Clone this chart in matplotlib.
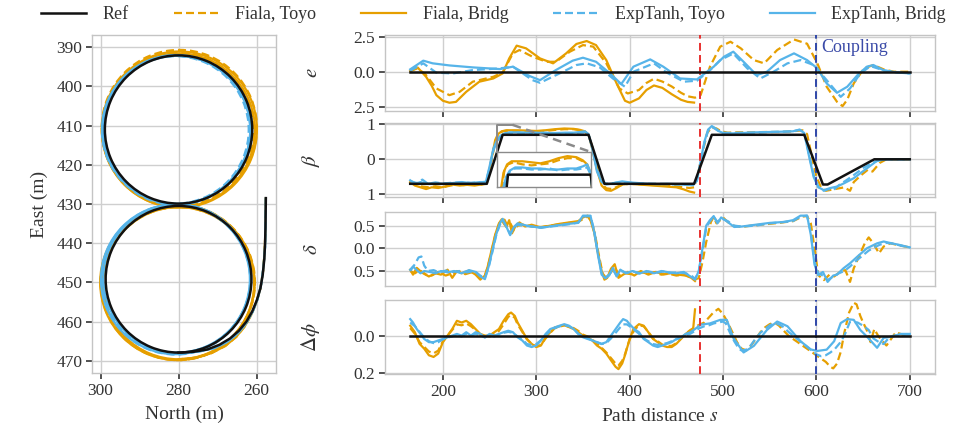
import matplotlib
matplotlib.use('Agg')
import matplotlib.pyplot as plt
from matplotlib.lines import Line2D
from matplotlib.patches import Arc

plt.rcParams['font.family'] = ['Liberation Serif', 'DejaVu Serif']
plt.rcParams['mathtext.fontset'] = 'stix'
plt.rcParams['axes.unicode_minus'] = False

TXT = '#333333'
ORANGE = '#E69F00'
BLUE = '#56B4E9'
BLACK = '#111111'
RED_EVT = '#e8302f'
BLUE_EVT = '#2f47a8'

# ---------------- data ----------------
series_labels = ['Ref', 'Fiala, Toyo', 'Fiala, Bridg', 'ExpTanh, Toyo', 'ExpTanh, Bridg']
event_s = [475, 600]
coupling_label = 'Coupling'

north_ticks = [300, 280, 260]
east_ticks = [390, 400, 410, 420, 430, 440, 450, 460, 470]
s_ticks = [200, 300, 400, 500, 600, 700]
e_ticks = [2.5, 0.0, -2.5]
e_ticklabels = ['2.5', '0.0', '2.5']
beta_ticks = [1, 0, -1]
beta_ticklabels = ['1', '0', '1']
delta_ticks = [0.5, 0.0, -0.5]
delta_ticklabels = ['0.5', '0.0', '0.5']
phi_ticks = [0.0, -0.2]
phi_ticklabels = ['0.0', '0.2']

# trajectories: entry leg (north, east) and the figure-eight loops (centre north, centre east, radius)
approach_ref = [(257.6,428.5),(257.65,432.0),(257.7,436.0),(257.8,440.0),(258.0,444.0),(258.4,448.0),(259.0,451.5),
                (259.9,454.5),(261.1,457.4),(262.6,460.0),(264.5,462.3),(266.8,464.3),(269.5,465.9),(272.6,467.1),
                (276.2,467.7),(280.0,467.9)]
approach_fiala = [(257.6,428.5),(257.7,436.0),(257.9,442.0),(258.3,447.0),(259.0,451.5),(260.0,455.0),(261.3,458.2),
                  (263.0,461.2),(265.2,463.9),(268.0,466.2),(271.5,468.0),(275.5,469.2),(280.0,469.6)]
approach_exp = [(257.6,428.5),(257.7,436.0),(257.8,441.0),(258.2,446.0),(258.8,450.5),(259.7,454.2),(261.0,457.5),
                (262.7,460.5),(264.8,463.0),(267.4,465.1),(270.6,466.7),(274.6,467.6),(280.4,467.9)]
loops_ref = [(280.0,449.2,18.7),(280.0,411.0,18.9)]
loops_fiala_bridg = [(280.0,450.2,19.4),(280.0,411.2,19.6),(280.3,450.0,19.8),(279.8,411.0,19.9)]
loops_fiala_toyo = [(280.2,450.0,19.8),(279.8,410.6,19.9),(280.0,450.3,19.5),(280.1,411.0,19.5)]
loops_exp_bridg = [(280.4,449.0,18.9),(280.4,411.1,18.9),(280.8,449.2,19.1),(280.6,411.0,19.0)]
loops_exp_toyo = [(280.7,449.3,19.1),(280.6,411.2,19.0),(280.5,449.0,19.0),(280.8,411.1,18.8)]

# lateral error e (s, value)
e_ref = [(165,0.0),(700,0.0)]
e_fiala_bridg = [(165,0.05),(173,0.3),(182,-0.36),(188,-1.0),(193,-1.67),(200,-2.07),(207,-2.21),(214,-2.15),
            (225,-1.43),(239,-0.71),(254,-0.48),(264,-0.12),(271,0.95),(279,1.86),(289,1.67),(304,0.95),(318,0.6),
            (332,1.31),(343,1.98),(354,2.19),(364,1.9),(375,0.83),(386,-0.83),(395,-2.07),(400,-2.21),(410,-1.9),
            (418,-1.3),(426,-0.98),(435,-1.15),(445,-1.6),(455,-2.0),(462,-2.15),(469,-2.2)]
e_fiala_toyo = [(165,0.05),(173,0.25),(182,-0.24),(193,-1.19),(207,-1.67),(218,-1.43),(232,-0.71),(254,-0.36),
            (264,-0.05),(275,1.31),(282,1.55),(296,1.07),(311,0.71),(321,0.71),(336,1.43),(350,1.9),(361,1.79),
            (375,0.6),(389,-1.19),(398,-1.55),(410,-1.3),(418,-0.8),(426,-0.5),(435,-0.7),(445,-1.05),(455,-1.5),
            (462,-1.75),(470,-1.85),(476,-1.67),(486,0.36),(497,1.79),(508,2.14),(519,1.67),(533,0.83),(544,0.6),
            (558,1.55),(576,2.3),(590,2.0),(601,0.6),(611,-1.07),(622,-2.14),(628,-2.45),(633,-2.0),(640,-0.83),
            (651,0.24),(661,0.48),(672,0.17),(683,0.0),(700,0.0)]
e_exp_bridg = [(165,0.17),(179,0.79),(189,0.6),(207,0.45),(232,0.31),(261,0.19),(275,0.36),(293,-0.31),(304,-0.6),
            (321,0.12),(339,0.79),(350,1.0),(364,0.71),(379,-0.12),(391,-0.88),(404,0.36),(422,0.88),(436,0.36),
            (454,-0.48),(472,-0.55),(490,0.36),(501,1.07),(511,1.43),(522,0.71),(536,-0.24),(547,0.0),(561,0.83),
            (576,1.31),(590,0.83),(601,0.24),(611,-0.83),(622,-1.5),(633,-1.07),(644,-0.24),(654,0.36),(661,0.48),
            (672,0.1),(686,-0.05),(700,-0.12)]
e_exp_toyo = [(165,0.07),(179,0.6),(193,-0.07),(211,-0.12),(232,0.12),(261,0.24),(275,0.36),(296,-0.6),(304,-0.79),
            (325,-0.12),(343,0.48),(354,0.6),(368,0.31),(382,-0.48),(395,-1.07),(404,0.0),(426,0.6),(440,-0.07),
            (458,-0.71),(472,-0.64),(486,0.1),(497,0.83),(511,1.3),(526,0.24),(540,-0.48),(554,0.0),(569,0.6),
            (583,0.83),(597,0.48),(611,-0.6),(626,-1.79),(636,-1.19),(647,-0.12),(658,0.4),(672,0.1),(686,-0.05),
            (700,-0.12)]

# sideslip beta
beta_ref = [(165,-0.7),(247,-0.7),(264,0.7),(356,0.7),(373,-0.7),(469,-0.7),(488,0.7),(587,0.7),(607,-0.72),
            (612,-0.72),(662,0.0),(700,0.0)]
beta_fiala_bridg = [(165,-0.65),(170,-0.75),(176,-0.8),(182,-0.85),(188,-0.8),(195,-0.82),(202,-0.78),(210,-0.72),
            (218,-0.75),(226,-0.73),(234,-0.75),(241,-0.72),(247,-0.7),(252,0.0),(256,0.55),(259,0.72),(263,0.8),
            (268,0.83),(280,0.83),(290,0.82),(300,0.81),(310,0.83),(320,0.86),(330,0.88),(340,0.87),(347,0.84),
            (352,0.8),(356,0.7),(360,0.3),(365,-0.3),(370,-0.75),(375,-0.88),(380,-0.9),(386,-0.82),(392,-0.72),
            (400,-0.7),(410,-0.72),(420,-0.74),(430,-0.76),(440,-0.78),(450,-0.8),(458,-0.86),(464,-0.92),(469,-0.95)]
beta_fiala_toyo = [(165,-0.62),(172,-0.72),(178,-0.78),(185,-0.8),(192,-0.77),(200,-0.8),(208,-0.75),(216,-0.72),
            (224,-0.74),(232,-0.72),(240,-0.73),(247,-0.68),(252,-0.05),(256,0.5),(260,0.74),(264,0.8),(270,0.82),
            (280,0.8),(290,0.79),(300,0.8),(310,0.81),(320,0.84),(330,0.86),(340,0.86),(347,0.83),(352,0.79),(356,0.7),
            (360,0.35),(365,-0.25),(370,-0.7),(375,-0.83),(381,-0.85),(387,-0.78),(393,-0.72),(400,-0.7),(410,-0.71),
            (420,-0.73),(430,-0.74),(440,-0.75),(450,-0.77),(458,-0.8),(464,-0.82),(469,-0.8),(473,-0.45),(478,0.2),
            (483,0.75),(488,0.92),(493,0.88),(498,0.8),(505,0.76),(515,0.77),(530,0.77),(545,0.78),(560,0.78),
            (575,0.8),(585,0.83),(590,0.72),(595,0.1),(600,-0.5),(605,-0.8),(610,-0.9),(620,-0.85),(630,-0.8),
            (636,-0.9),(640,-0.65),(648,-0.45),(655,-0.3),(660,-0.35),(668,-0.1),(675,0.0),(700,0.0)]
beta_exp_bridg = [(165,-0.6),(170,-0.7),(176,-0.65),(182,-0.7),(190,-0.68),(200,-0.7),(210,-0.68),(220,-0.65),
            (230,-0.68),(240,-0.65),(246,-0.65),(250,-0.2),(254,0.3),(258,0.55),(262,0.68),(266,0.74),(272,0.77),
            (280,0.77),(290,0.76),(300,0.76),(310,0.75),(320,0.75),(330,0.76),(340,0.76),(347,0.78),(352,0.8),
            (356,0.72),(360,0.3),(365,-0.35),(370,-0.65),(375,-0.72),(380,-0.7),(386,-0.66),(392,-0.63),(400,-0.66),
            (410,-0.68),(420,-0.7),(430,-0.71),(440,-0.7),(450,-0.71),(460,-0.73),(468,-0.74),(472,-0.6),(476,-0.05),
            (480,0.5),(484,0.85),(488,0.95),(492,0.88),(496,0.8),(500,0.75),(510,0.74),(520,0.75),(535,0.77),
            (550,0.78),(565,0.79),(575,0.8),(582,0.85),(587,0.75),(592,0.1),(597,-0.5),(602,-0.8),(608,-0.88),
            (615,-0.82),(622,-0.78),(630,-0.68),(640,-0.54),(654,-0.26),(665,-0.04),(675,0.0),(700,0.0)]
beta_exp_toyo = [(165,-0.62),(172,-0.68),(178,-0.58),(184,-0.7),(192,-0.66),(200,-0.69),(210,-0.67),(220,-0.66),
            (230,-0.67),(240,-0.66),(246,-0.64),(250,-0.25),(254,0.25),(258,0.52),(262,0.66),(266,0.73),(272,0.76),
            (280,0.76),(290,0.75),(300,0.75),(310,0.76),(320,0.74),(330,0.75),(340,0.75),(347,0.76),(352,0.77),
            (356,0.7),(360,0.35),(365,-0.3),(370,-0.62),(375,-0.7),(380,-0.69),(386,-0.67),(392,-0.65),(400,-0.67),
            (410,-0.69),(420,-0.7),(430,-0.7),(440,-0.71),(450,-0.72),(460,-0.72),(468,-0.73),(472,-0.62),(476,-0.1),
            (480,0.45),(484,0.82),(488,0.93),(492,0.86),(496,0.79),(500,0.76),(510,0.75),(520,0.76),(535,0.76),
            (550,0.78),(565,0.79),(575,0.8),(582,0.84),(587,0.76),(592,0.15),(597,-0.45),(602,-0.78),(608,-0.9),
            (613,-0.85),(618,-0.88),(625,-0.72),(632,-0.6),(640,-0.45),(650,-0.25),(660,-0.1),(670,0.0),(700,0.0)]

# steering delta
delta_fiala_bridg = [(165,-0.47),(168,-0.58),(172,-0.43),(178,-0.54),(185,-0.62),(192,-0.55),(198,-0.58),(205,-0.47),
            (210,-0.65),(215,-0.5),(220,-0.55),(228,-0.49),(235,-0.58),(240,-0.69),(245,-0.6),(248,-0.4),(252,-0.05),
            (256,0.3),(260,0.55),(263,0.64),(265,0.55),(268,0.47),(271,0.62),(274,0.33),(278,0.5),(282,0.57),
            (288,0.48),(295,0.52),(305,0.46),(315,0.5),(325,0.54),(335,0.57),(345,0.6),(350,0.68),(355,0.72),
            (358,0.62),(362,0.35),(366,-0.1),(370,-0.5),(373,-0.69),(376,-0.65),(380,-0.45),(384,-0.35),(388,-0.65),
            (393,-0.58),(398,-0.52),(405,-0.6),(412,-0.5),(420,-0.58),(428,-0.52),(436,-0.57),(444,-0.55),
            (452,-0.58),(460,-0.6),(466,-0.65),(470,-0.72)]
delta_fiala_toyo = [(165,-0.5),(170,-0.55),(175,-0.48),(182,-0.58),(188,-0.6),(195,-0.52),(203,-0.6),(210,-0.55),
            (217,-0.5),(224,-0.57),(232,-0.52),(240,-0.65),(245,-0.6),(248,-0.42),(252,-0.08),(256,0.28),(260,0.52),
            (263,0.63),(266,0.63),(269,0.5),(272,0.56),(276,0.4),(280,0.5),(286,0.52),(295,0.48),(305,0.47),
            (315,0.5),(325,0.53),(335,0.56),(345,0.58),(351,0.66),(355,0.7),(359,0.6),(363,0.3),(367,-0.15),
            (371,-0.55),(375,-0.66),(379,-0.55),(384,-0.42),(389,-0.6),(395,-0.55),(402,-0.57),(410,-0.52),
            (418,-0.55),(426,-0.53),(434,-0.58),(442,-0.56),(450,-0.6),(458,-0.58),(465,-0.63),(470,-0.68),
            (474,-0.66),(478,-0.3),(482,0.14),(487,0.58),(490,0.69),(493,0.55),(497,0.62),(500,0.68),(505,0.58),
            (510,0.5),(520,0.47),(530,0.5),(545,0.53),(560,0.56),(575,0.6),(585,0.7),(590,0.71),(594,0.55),
            (598,0.0),(602,-0.59),(608,-0.7),(614,-0.58),(619,-0.62),(626,-0.51),(631,-0.48),(636,-0.74),
            (640,-0.44),(647,-0.11),(652,0.12),(656,0.24),(661,0.11),(667,-0.11),(672,0.04),(679,0.11),(690,0.06),
            (700,0.02)]
delta_exp_bridg = [(165,-0.47),(168,-0.4),(172,-0.48),(176,-0.55),(180,-0.5),(186,-0.52),(192,-0.55),(198,-0.5),
            (205,-0.53),(212,-0.5),(220,-0.55),(228,-0.48),(235,-0.52),(240,-0.62),(245,-0.68),(249,-0.4),
            (253,-0.05),(257,0.3),(261,0.55),(264,0.65),(269,0.43),(272,0.29),(276,0.47),(280,0.55),(290,0.5),
            (305,0.45),(320,0.5),(335,0.54),(345,0.56),(350,0.72),(358,0.72),(362,0.36),(366,-0.14),(370,-0.58),
            (374,-0.66),(378,-0.6),(382,-0.43),(386,-0.62),(390,-0.47),(396,-0.55),(403,-0.5),(410,-0.56),
            (418,-0.5),(426,-0.55),(434,-0.5),(442,-0.53),(450,-0.55),(458,-0.52),(465,-0.62),(470,-0.69),
            (474,-0.5),(478,0.0),(482,0.5),(486,0.62),(490,0.71),(494,0.55),(498,0.68),(505,0.58),(512,0.47),
            (520,0.48),(535,0.52),(550,0.56),(565,0.58),(575,0.62),(583,0.72),(590,0.72),(594,0.3),(598,-0.36),
            (602,-0.59),(607,-0.52),(612,-0.74),(618,-0.6),(622,-0.58),(629,-0.44),(636,-0.33),(644,-0.18),
            (654,0.0),(665,0.11),(672,0.15),(683,0.1),(690,0.07),(700,0.02)]
delta_exp_toyo = [(165,-0.5),(170,-0.35),(174,-0.2),(177,-0.18),(180,-0.38),(184,-0.5),(190,-0.48),(196,-0.53),
            (203,-0.49),(210,-0.52),(218,-0.5),(226,-0.53),(234,-0.5),(240,-0.6),(245,-0.65),(249,-0.42),
            (253,-0.08),(257,0.28),(261,0.52),(264,0.62),(268,0.48),(272,0.32),(276,0.45),(280,0.52),(290,0.49),
            (305,0.46),(320,0.49),(335,0.53),(345,0.57),(350,0.7),(358,0.71),(362,0.4),(366,-0.1),(370,-0.55),
            (374,-0.64),(378,-0.58),(382,-0.47),(386,-0.6),(391,-0.5),(397,-0.54),(404,-0.51),(412,-0.55),
            (420,-0.51),(428,-0.54),(436,-0.51),(444,-0.54),(452,-0.53),(460,-0.55),(466,-0.6),(470,-0.67),
            (474,-0.52),(478,-0.05),(482,0.45),(486,0.6),(490,0.7),(494,0.58),(498,0.66),(505,0.6),(512,0.5),
            (520,0.48),(535,0.5),(550,0.55),(565,0.58),(575,0.6),(583,0.7),(590,0.72),(594,0.35),(598,-0.3),
            (602,-0.55),(607,-0.6),(612,-0.7),(618,-0.62),(624,-0.55),(630,-0.5),(636,-0.4),(644,-0.25),
            (650,-0.15),(656,-0.05),(662,0.02),(668,0.08),(675,0.12),(683,0.1),(690,0.06),(700,0.02)]

# heading error
phi_ref = [(165,0.0),(700,0.0)]
phi_fiala_bridg = [(165,0.053),(170,0.018),(175,-0.044),(180,-0.07),(185,-0.105),(190,-0.114),(195,-0.096),
            (200,-0.035),(205,0.0),(210,0.035),(215,0.079),(220,0.07),(225,0.079),(230,0.061),(235,0.035),
            (240,0.009),(245,0.0),(250,0.0),(255,0.018),(260,0.035),(265,0.079),(270,0.114),(273,0.123),
            (277,0.105),(280,0.07),(285,0.026),(290,-0.018),(295,-0.044),(300,-0.061),(305,-0.053),(310,-0.009),
            (315,0.018),(320,0.044),(330,0.056),(340,0.035),(345,0.018),(350,0.0),(355,-0.009),(360,-0.026),
            (365,-0.053),(370,-0.07),(375,-0.096),(380,-0.132),(385,-0.167),(388,-0.179),(392,-0.149),
            (395,-0.105),(398,-0.053),(400,-0.02),(404,0.035),(410,0.061),(415,0.053),(420,0.018),(425,-0.018),
            (430,-0.035),(435,-0.053),(440,-0.061),(445,-0.061),(450,-0.044),(455,-0.018),(460,0.009),
            (465,0.026),(468,0.035),(470,0.14)]
phi_fiala_toyo = [(165,0.04),(170,0.01),(175,-0.035),(180,-0.06),(185,-0.085),(190,-0.095),(195,-0.08),
            (200,-0.03),(205,0.0),(210,0.03),(215,0.06),(220,0.055),(225,0.065),(230,0.05),(235,0.03),(240,0.005),
            (245,0.0),(250,-0.005),(255,0.01),(260,0.025),(265,0.06),(270,0.1),(273,0.11),(277,0.095),(280,0.06),
            (285,0.02),(290,-0.02),(295,-0.045),(300,-0.058),(305,-0.05),(310,-0.015),(315,0.015),(320,0.04),
            (330,0.055),(340,0.04),(345,0.025),(350,0.005),(355,-0.005),(360,-0.02),(365,-0.045),(370,-0.065),
            (375,-0.09),(380,-0.12),(385,-0.15),(388,-0.16),(392,-0.135),(395,-0.1),(398,-0.05),(400,-0.02),
            (405,0.03),(410,0.055),(415,0.05),(420,0.02),(425,-0.015),(430,-0.03),(435,-0.048),(440,-0.055),
            (445,-0.055),(450,-0.04),(455,-0.015),(460,0.01),(465,0.03),(470,0.045),(473,0.054),(480,0.07),
            (490,0.125),(495,0.143),(500,0.115),(505,0.07),(510,0.018),(515,-0.035),(520,-0.07),(525,-0.079),
            (530,-0.053),(535,-0.018),(540,0.018),(545,0.044),(550,0.061),(555,0.07),(560,0.053),(565,0.026),
            (570,0.0),(575,-0.018),(580,-0.035),(585,-0.053),(590,-0.07),(595,-0.088),(600,-0.105),(605,-0.123),
            (610,-0.14),(615,-0.167),(618,-0.175),(622,-0.15),(626,-0.088),(630,0.018),(635,0.123),(640,0.175),
            (643,0.167),(647,0.105),(650,0.07),(655,0.018),(658,-0.035),(662,0.035),(666,0.0),(670,-0.026),
            (675,-0.053),(680,-0.018),(685,0.018),(690,0.009),(695,0.0),(700,-0.004)]
phi_exp_bridg = [(165,0.088),(168,0.07),(172,0.035),(176,0.009),(180,-0.018),(185,-0.035),(190,-0.035),
            (195,-0.026),(200,-0.018),(205,-0.009),(210,0.0),(215,0.009),(220,0.0),(225,0.018),(230,0.0),
            (235,0.018),(240,0.009),(245,-0.009),(250,0.009),(255,0.0),(260,0.009),(265,0.018),(270,0.026),
            (275,0.018),(280,-0.009),(285,-0.026),(290,-0.053),(295,-0.061),(300,-0.053),(305,-0.026),(310,0.009),
            (315,0.035),(320,0.044),(325,0.053),(330,0.061),(335,0.053),(340,0.035),(345,0.009),(350,-0.009),
            (355,-0.018),(360,-0.026),(365,-0.035),(370,-0.044),(375,-0.035),(380,0.0),(385,0.035),(390,0.07),
            (393,0.088),(397,0.079),(400,0.061),(405,0.035),(410,0.018),(415,-0.018),(420,-0.035),(425,-0.053),
            (430,-0.061),(435,-0.053),(440,-0.044),(445,-0.035),(450,-0.018),(455,-0.009),(460,0.009),
            (465,0.018),(470,0.035),(476,0.058),(486,0.065),(497,0.084),(504,0.084),(511,-0.012),(522,-0.09),
            (533,-0.055),(547,0.03),(558,0.075),(569,0.05),(583,-0.03),(594,-0.074),(601,-0.082),(611,-0.075),
            (619,-0.03),(626,0.067),(633,0.088),(640,0.084),(647,0.03),(654,-0.005),(665,-0.065),(672,-0.012),
            (683,-0.004),(690,0.009),(700,0.009)]
phi_exp_toyo = [(165,0.07),(170,0.05),(175,0.02),(180,-0.01),(185,-0.03),(190,-0.04),(195,-0.035),(200,-0.02),
            (205,-0.01),(210,-0.005),(215,0.005),(220,-0.005),(225,0.01),(230,0.0),(235,0.01),(240,0.0),
            (245,-0.01),(250,0.005),(255,-0.005),(260,0.005),(265,0.015),(270,0.02),(275,0.015),(280,-0.005),
            (285,-0.02),(290,-0.045),(295,-0.05),(300,-0.045),(305,-0.025),(310,0.0),(315,0.025),(320,0.04),
            (325,0.05),(330,0.055),(335,0.05),(340,0.035),(345,0.01),(350,-0.005),(355,-0.015),(360,-0.025),
            (365,-0.035),(370,-0.045),(375,-0.04),(380,-0.015),(385,0.015),(390,0.045),(393,0.06),(397,0.06),
            (400,0.05),(405,0.03),(410,0.01),(415,-0.015),(420,-0.03),(425,-0.045),(430,-0.05),(435,-0.045),
            (440,-0.04),(445,-0.03),(450,-0.02),(455,-0.01),(460,0.0),(465,0.01),(470,0.025),(475,0.04),
            (480,0.05),(485,0.055),(490,0.065),(495,0.07),(500,0.075),(503,0.065),(507,0.02),(512,-0.03),
            (517,-0.07),(520,-0.08),(525,-0.075),(530,-0.05),(535,-0.015),(540,0.015),(545,0.035),(550,0.055),
            (555,0.065),(560,0.06),(565,0.045),(570,0.02),(575,0.0),(580,-0.02),(585,-0.04),(590,-0.06),
            (595,-0.08),(600,-0.1),(605,-0.11),(610,-0.105),(615,-0.09),(620,-0.07),(625,-0.04),(630,0.0),
            (636,0.075),(644,0.07),(651,0.05),(656,0.03),(661,-0.015),(667,-0.035),(672,-0.045),(678,-0.01),
            (683,0.0),(690,0.005),(700,0.005)]


def xy(pairs):
    return [p[0] for p in pairs], [p[1] for p in pairs]


styles = {
    'Ref': dict(color=BLACK, lw=1.8, ls='-', zorder=4),
    'Fiala, Toyo': dict(color=ORANGE, lw=1.6, ls=(0, (3.6, 1.8)), zorder=2),
    'Fiala, Bridg': dict(color=ORANGE, lw=1.6, ls='-', zorder=2.1),
    'ExpTanh, Toyo': dict(color=BLUE, lw=1.6, ls=(0, (3.6, 1.8)), zorder=2.2),
    'ExpTanh, Bridg': dict(color=BLUE, lw=1.6, ls='-', zorder=2.3),
}

fig = plt.figure(figsize=(9.6, 4.36), dpi=100)


def style_axes(ax):
    ax.set_facecolor('white')
    ax.grid(True, color='#cfcfcf', lw=1.0)
    ax.set_axisbelow(True)
    for sp in ax.spines.values():
        sp.set_color('#c4c4c4')
        sp.set_linewidth(1.0)
    ax.tick_params(axis='both', direction='out', length=4.5, width=1.2, color='#333333',
                   labelsize=12.5, labelcolor=TXT, pad=2.5)
    ax.tick_params(axis='both', which='both', top=False, right=False)


# ---------------- left: trajectory ----------------
axL = fig.add_axes([92 / 960, 63 / 436, 184 / 960, 338 / 436])
style_axes(axL)
traj_order = [('Fiala, Toyo', approach_fiala, loops_fiala_toyo), ('Fiala, Bridg', approach_fiala, loops_fiala_bridg),
              ('ExpTanh, Toyo', approach_exp, loops_exp_toyo), ('ExpTanh, Bridg', approach_exp, loops_exp_bridg),
              ('Ref', approach_ref, loops_ref)]
for name, appr, loops in traj_order:
    st = styles[name]
    n, e = xy(appr)
    axL.plot(n, e, **st)
    for cn, ce, r in loops:
        arc = Arc((cn, ce), 2 * r, 2 * r, theta1=0, theta2=360, edgecolor=st['color'], lw=st['lw'],
                  linestyle=st['ls'], zorder=st['zorder'], fill=False)
        axL.add_patch(arc)
axL.set_xlim(302.2, 255.0)
axL.set_ylim(473.1, 386.9)
axL.set_xticks(north_ticks)
axL.set_yticks(east_ticks)
axL.set_xlabel('North (m)', fontsize=14, color=TXT, labelpad=5)
axL.set_ylabel('East (m)', fontsize=14, color=TXT, labelpad=6)

# ---------------- right: time series ----------------
panels = [
    ('$e$', (35, 111), (-2.8, 2.62), e_ticks, e_ticklabels,
     [e_fiala_toyo, e_fiala_bridg, e_exp_toyo, e_exp_bridg, e_ref]),
    ('$\\beta$', (123, 197), (-1.077, 1.037), beta_ticks, beta_ticklabels,
     [beta_fiala_toyo, beta_fiala_bridg, beta_exp_toyo, beta_exp_bridg, beta_ref]),
    ('$\\delta$', (212, 286), (-0.83, 0.80), delta_ticks, delta_ticklabels,
     [delta_fiala_toyo, delta_fiala_bridg, delta_exp_toyo, delta_exp_bridg, None]),
    ('$\\Delta\\phi$', (300, 374), (-0.205, 0.19), phi_ticks, phi_ticklabels,
     [phi_fiala_toyo, phi_fiala_bridg, phi_exp_toyo, phi_exp_bridg, phi_ref]),
]
names_order = ['Fiala, Toyo', 'Fiala, Bridg', 'ExpTanh, Toyo', 'ExpTanh, Bridg', 'Ref']
axes_r = []
for i, (lab, (top, bot), ylim, yt, ytl, data) in enumerate(panels):
    ax = fig.add_axes([385 / 960, (436 - bot) / 436, 550 / 960, (bot - top) / 436])
    style_axes(ax)
    for name, d in zip(names_order, data):
        if d is None:
            continue
        s, v = xy(d)
        ax.plot(s, v, **styles[name])
    ax.axvline(event_s[0], color=RED_EVT, lw=1.4, ls=(0, (4, 2.2)), zorder=3)
    ax.axvline(event_s[1], color=BLUE_EVT, lw=1.4, ls=(0, (4, 2.2)), zorder=3)
    ax.set_xlim(138, 727)
    ax.set_ylim(*ylim)
    ax.set_xticks(s_ticks)
    ax.set_yticks(yt)
    ax.set_yticklabels(ytl)
    ax.set_ylabel(lab, fontsize=15, color=TXT)
    ax.yaxis.set_label_coords(-0.115, 0.5)
    if i < 3:
        ax.tick_params(labelbottom=False)
    axes_r.append(ax)

axes_r[0].text(event_s[1] + 5, 1.75, coupling_label, color='#3b4ba8', fontsize=13, va='center', ha='left')
axes_r[-1].set_xlabel('Path distance $s$', fontsize=14, color=TXT, labelpad=6)

# inset in beta panel
axb = axes_r[1]
ins = axb.inset_axes([0.204, 0.135, 0.171, 0.473])
ins.set_facecolor('white')
for name, d in zip(names_order, panels[1][5]):
    s, v = xy(d)
    ins.plot(s, v, **styles[name])
ins.set_xlim(252, 356.5)
ins.set_ylim(0.58, 0.92)
ins.set_xticks([])
ins.set_yticks([])
for sp in ins.spines.values():
    sp.set_color('#8a8a8a')
    sp.set_linewidth(1.0)
axb.plot([0.204, 0.204, 0.232], [0.608, 0.975, 0.975], transform=axb.transAxes,
         color='#8a8a8a', lw=1.4, zorder=6)
axb.plot([0.232, 0.3745], [0.975, 0.608], transform=axb.transAxes,
         color='#8a8a8a', lw=1.8, ls=(0, (3.5, 2.2)), zorder=6)

# legend
handles = [Line2D([0], [0], color=styles[n]['color'], lw=styles[n]['lw'], ls=styles[n]['ls']) for n in series_labels]
fig.legend(handles, series_labels, loc='center', bbox_to_anchor=(0.514, 0.967), ncol=5, frameon=False,
           fontsize=13.0, handlelength=2.5, handletextpad=0.9, columnspacing=2.5, labelcolor=TXT)

fig.savefig('out.png', dpi=100)
